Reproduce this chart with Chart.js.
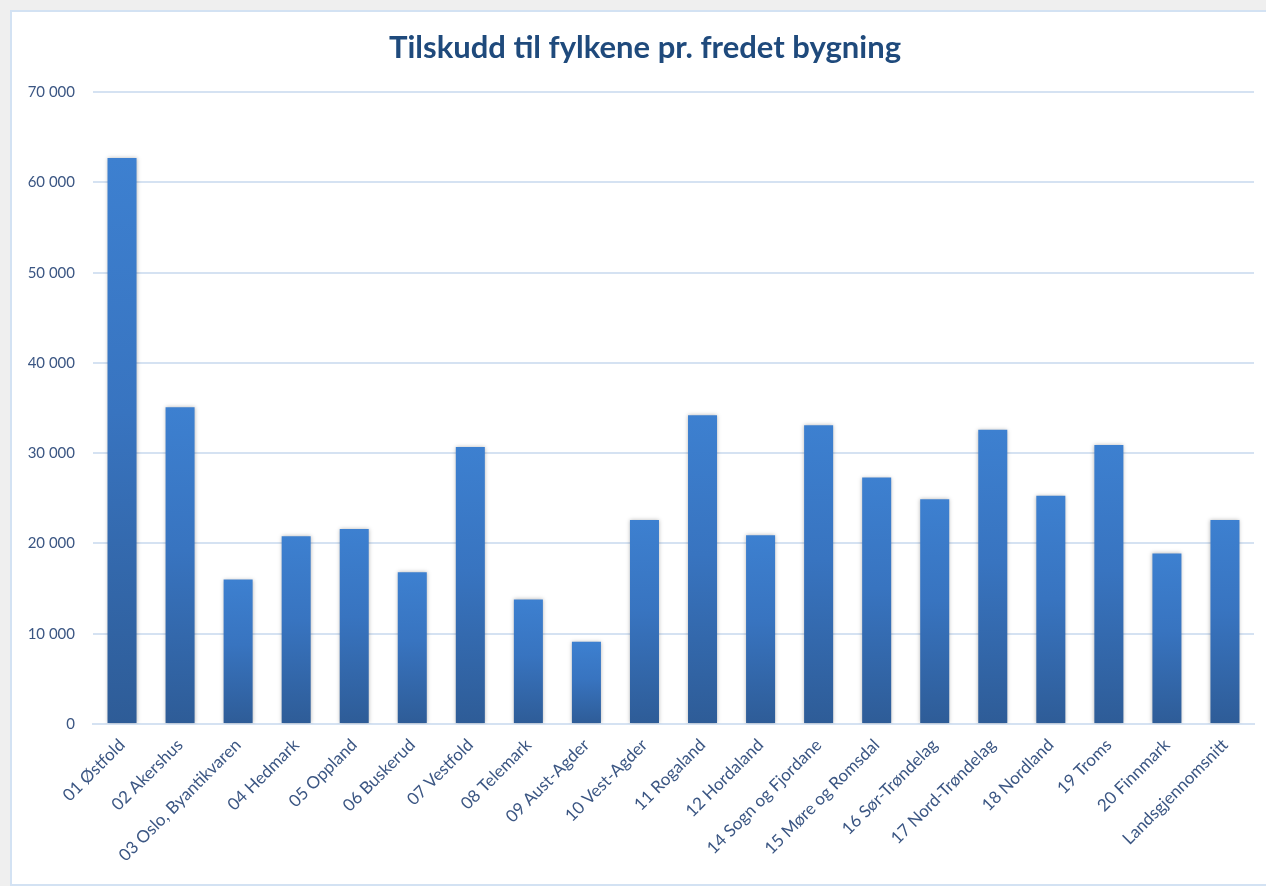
<!DOCTYPE html>
<html>
<head>
<meta charset="utf-8">
<script src="https://cdn.jsdelivr.net/npm/chart.js@4/dist/chart.umd.min.js"></script>
<style>
  html, body { margin: 0; padding: 0; background: #efefef; width: 1266px; height: 886px; overflow: hidden; }
  #panel { position: absolute; left: 10px; top: 10px; width: 1270px; height: 872px; background: #ffffff; border: 2px solid #d3e2f3; }
  #wrap { position: absolute; left: 12px; top: 12px; width: 1254px; height: 872px; }
</style>
</head>
<body>
<div id="panel"></div>
<div id="wrap"><canvas id="c"></canvas></div>
<script>
const categories = [
  "01 Østfold", "02 Akershus", "03 Oslo, Byantikvaren", "04 Hedmark", "05 Oppland",
  "06 Buskerud", "07 Vestfold", "08 Telemark", "09 Aust-Agder", "10 Vest-Agder",
  "11 Rogaland", "12 Hordaland", "14 Sogn og Fjordane", "15 Møre og Romsdal",
  "16 Sør-Trøndelag", "17 Nord-Trøndelag", "18 Nordland", "19 Troms", "20 Finnmark",
  "Landsgjennomsnitt"
];
const tilskudd = [
  62700, 35100, 16000, 20800, 21600,
  16800, 30700, 13800, 9100, 22600,
  34200, 20900, 33100, 27300,
  24900, 32600, 25300, 30900, 18900,
  22600
];
const chartTitle = "Tilskudd til fylkene pr. fredet bygning";
const yMin = 0, yMax = 70000, yStep = 10000;

function fmt(v) {
  return String(v).replace(/\B(?=(\d{3})+(?!\d))/g, " ");
}

const labelColor = "#3b5683";
const gridColor = "#d5e2f2";

function barGradient(ctx) {
  const chart = ctx.chart;
  if (!chart.chartArea || ctx.type !== "data") return "#3a74c0";
  const ys = chart.scales.y;
  const top = ys.getPixelForValue(ctx.raw);
  const base = ys.getPixelForValue(0);
  if (!isFinite(top) || !isFinite(base) || top === base) return "#3a74c0";
  const g = chart.ctx.createLinearGradient(0, top, 0, base);
  g.addColorStop(0, "#3d80d0");
  g.addColorStop(0.45, "#3874c0");
  g.addColorStop(1, "#2e5c97");
  return g;
}

const shadowPlugin = {
  id: "barShadow",
  beforeDatasetsDraw(chart) {
    const c = chart.ctx;
    c.save();
    c.shadowColor = "rgba(0,0,0,0.28)";
    c.shadowBlur = 4;
    c.shadowOffsetX = 0;
    c.shadowOffsetY = 0;
  },
  afterDatasetsDraw(chart) {
    chart.ctx.restore();
  }
};

const titleShift = {
  id: "titleShift",
  afterLayout(chart) {
    if (chart.titleBlock) chart.titleBlock.left += 24;
  }
};

new Chart(document.getElementById("c"), {
  type: "bar",
  data: {
    labels: categories,
    datasets: [{
      label: chartTitle,
      data: tilskudd,
      backgroundColor: barGradient,
      borderWidth: 0,
      categoryPercentage: 1.0,
      barPercentage: 0.5
    }]
  },
  plugins: [shadowPlugin, titleShift],
  options: {
    responsive: true,
    maintainAspectRatio: false,
    animation: false,
    layout: { padding: { left: 0, right: 12, top: 0, bottom: 0 } },
    plugins: {
      legend: { display: false },
      tooltip: { enabled: false },
      title: {
        display: true,
        text: chartTitle,
        color: "#1f4a7c",
        font: { family: "Lato, 'Open Sans', sans-serif", size: 31, weight: "bold" },
        padding: { top: 17, bottom: 26 }
      }
    },
    scales: {
      x: {
        grid: { display: false, drawTicks: false },
        border: { display: true, color: gridColor, width: 2 },
        ticks: {
          color: labelColor,
          font: { family: "Lato, 'Open Sans', sans-serif", size: 17 },
          maxRotation: 45,
          minRotation: 45,
          autoSkip: false,
          padding: 11
        },
        afterFit(scale) { scale.height = 160; }
      },
      y: {
        min: yMin,
        max: yMax,
        grid: { color: gridColor, lineWidth: 2, drawTicks: false },
        border: { display: false },
        ticks: {
          stepSize: yStep,
          color: labelColor,
          font: { family: "Lato, 'Open Sans', sans-serif", size: 15 },
          padding: 18,
          callback: (v) => fmt(v)
        },
        afterFit(scale) { scale.width = 81; }
      }
    }
  }
});
</script>
</body>
</html>
